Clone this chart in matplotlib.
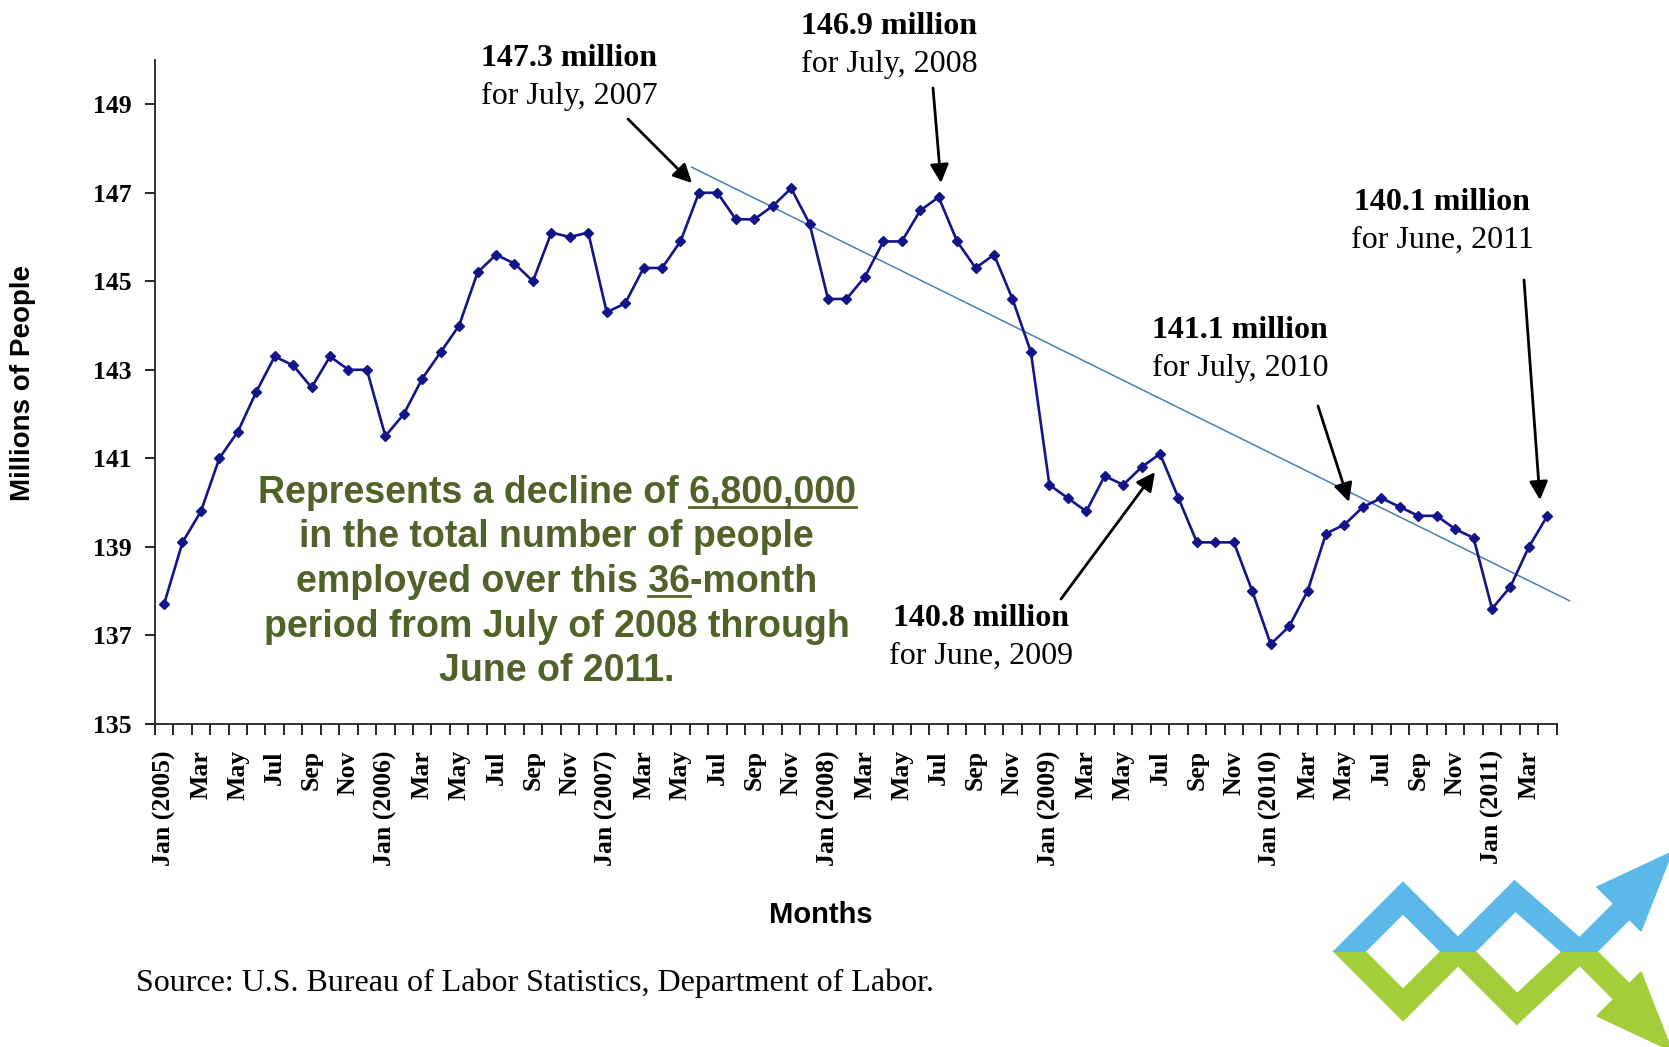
import numpy as np
import matplotlib
matplotlib.use("Agg")
import matplotlib.pyplot as plt
from matplotlib.patches import Polygon, Rectangle

# employment, millions of people, Jan 2005 - Apr 2011
employed = [
    137.7, 139.1, 139.8, 141.0, 141.6, 142.5, 143.3, 143.1, 142.6, 143.3, 143.0, 143.0,
    141.5, 142.0, 142.8, 143.4, 144.0, 145.2, 145.6, 145.4, 145.0, 146.1, 146.0, 146.1,
    144.3, 144.5, 145.3, 145.3, 145.9, 147.0, 147.0, 146.4, 146.4, 146.7, 147.1, 146.3,
    144.6, 144.6, 145.1, 145.9, 145.9, 146.6, 146.9, 145.9, 145.3, 145.6, 144.6, 143.4,
    140.4, 140.1, 139.8, 140.6, 140.4, 140.8, 141.1, 140.1, 139.1, 139.1, 139.1, 138.0,
    136.8, 137.2, 138.0, 139.3, 139.5, 139.9, 140.1, 139.9, 139.7, 139.7, 139.4, 139.2,
    137.6, 138.1, 139.0, 139.7,
]

# trend line end points (month index, value)
trend_x = [28.6, 76.2]
trend_y = [147.58, 137.78]

years = [2005, 2006, 2007, 2008, 2009, 2010, 2011]
months_shown = ["Jan", "Mar", "May", "Jul", "Sep", "Nov"]
y_ticks = [135, 137, 139, 141, 143, 145, 147, 149]

# callouts: bold value, second line, text centre, arrow tail, arrow tip (pixels)
callouts = [
    ("147.3 million", "for July, 2007", (569, 59), (628, 119), (692, 183)),
    ("146.9 million", "for July, 2008", (889, 27), (933, 88), (941, 183)),
    ("140.1 million", "for June, 2011", (1442, 203), (1524, 280), (1540, 500)),
    ("141.1 million", "for July, 2010", (1240, 331), (1318, 406), (1349, 502)),
    ("140.8 million", "for June, 2009", (981, 619), (1061, 599), (1155, 472)),
]

note_lines = [
    "Represents a decline of 6,800,000",
    "in the total number of people",
    "employed over this 36-month",
    "period from July of 2008 through",
    "June of 2011.",
]

W, H = 1669, 1047
serif = "Liberation Serif"
sans = "Liberation Sans"
green = "#4f6228"

tick_labels = []
for yr in years:
    for m in months_shown:
        tick_labels.append(f"{m} ({yr})" if m == "Jan" else m)
n = len(employed)
x = np.arange(n)
label_pos = np.arange(0, n, 2)
tick_labels = tick_labels[:len(label_pos)]

fig = plt.figure(figsize=(W / 100, H / 100), dpi=100)
ax = fig.add_axes([154.8 / W, 1 - 723.8 / H, (1556.6 - 154.8) / W, (723.8 - 60) / H])

ax.plot(x, employed, color="#14148a", lw=1.9, marker="D", markersize=5.6, zorder=3)
ax.plot(trend_x, trend_y, color="#4a7ebb", lw=1.1, clip_on=False, zorder=2)

ax.set_xlim(-0.5, n - 0.5)
ax.set_ylim(135, 150)
ax.set_yticks(y_ticks, labels=[str(v) for v in y_ticks],
              fontfamily=serif, fontweight="bold", fontsize=18.5)
ax.set_xticks(label_pos, labels=tick_labels, rotation=90,
              fontfamily=serif, fontweight="bold", fontsize=18.5)
ax.set_xticks(np.arange(-0.5, n, 1), minor=True)
ax.tick_params(axis="x", which="major", length=0, pad=19)
ax.tick_params(axis="x", which="minor", length=8, width=1.2, direction="out")
ax.tick_params(axis="y", length=7, width=1.2, direction="out", pad=10)
for side in ["top", "right"]:
    ax.spines[side].set_visible(False)
for side in ["left", "bottom"]:
    ax.spines[side].set_linewidth(1.3)
    ax.spines[side].set_color("#222222")

fig.text(23.4 / W, 1 - 383 / H, "Millions of People", rotation=90, ha="center", va="center",
         fontfamily=sans, fontweight="bold", fontsize=20)
fig.text(820.7 / W, 1 - 915.4 / H, "Months", ha="center", va="center",
         fontfamily=sans, fontweight="bold", fontsize=21)
fig.text(136 / W, 1 - 983.5 / H, "Source: U.S. Bureau of Labor Statistics, Department of Labor.",
         ha="left", va="center", fontfamily=serif, fontsize=23)

# overlay in pixel units for callouts, note and logo
over = fig.add_axes([0, 0, 1, 1], zorder=5)
over.set_xlim(0, W)
over.set_ylim(H, 0)
over.axis("off")
over.patch.set_alpha(0)

for bold, sub, (cx, cy), tail, tip in callouts:
    over.text(cx, cy, bold, ha="center", va="center", fontfamily=serif,
              fontweight="bold", fontsize=23)
    over.text(cx, cy + 37, sub, ha="center", va="center", fontfamily=serif, fontsize=23)
    over.annotate("", xy=tip, xytext=tail,
                  arrowprops=dict(arrowstyle="-|>", color="black", lw=2,
                                  mutation_scale=28, shrinkA=0, shrinkB=0))

note_kw = dict(fontfamily=sans, fontweight="bold", fontsize=27, color=green)
baselines = [503, 547, 592, 637, 681]
note_texts = []
for line, yb in zip(note_lines, baselines):
    note_texts.append(over.text(556.7, yb, line, ha="center", va="baseline", **note_kw))

fig.canvas.draw()
renderer = fig.canvas.get_renderer()


def text_width(s):
    t = over.text(0, 0, s, **note_kw)
    w = t.get_window_extent(renderer).width
    t.remove()
    return w


# underline "6,800,000" and "36"
bb = note_texts[0].get_window_extent(renderer)
w = text_width("6,800,000")
over.plot([bb.x1 - w, bb.x1], [baselines[0] + 4] * 2, color=green, lw=2)
bb = note_texts[2].get_window_extent(renderer)
right = bb.x0 + text_width("employed over this 36")
w = text_width("36")
over.plot([right - w, right], [baselines[2] + 4] * 2, color=green, lw=2)

# zigzag arrows logo, split along the middle line
mid = 951.7
blue, lgreen = "#5bb8e8", "#a4cd3a"
top_clip = Rectangle((1300, 800), 400, mid - 800, transform=over.transData)
bot_clip = Rectangle((1300, mid), 400, 200, transform=over.transData)
bl, = over.plot([1335, 1403, 1458, 1515, 1580, 1622], [966, 898, 953, 896, 953, 911],
                color=blue, lw=17, solid_joinstyle="miter", solid_capstyle="butt")
bl.set_clip_path(top_clip)
gl, = over.plot([1335, 1403, 1458, 1517, 1580, 1622], [937, 1005, 950, 1009, 950, 992],
                color=lgreen, lw=17, solid_joinstyle="miter", solid_capstyle="butt")
gl.set_clip_path(bot_clip)
over.add_patch(Polygon([(1597, 887), (1641, 931), (1672, 852)], closed=True, color=blue))
over.add_patch(Polygon([(1597, 1016), (1641, 972), (1672, 1051)], closed=True, color=lgreen))

fig.savefig("out.png", dpi=100)
